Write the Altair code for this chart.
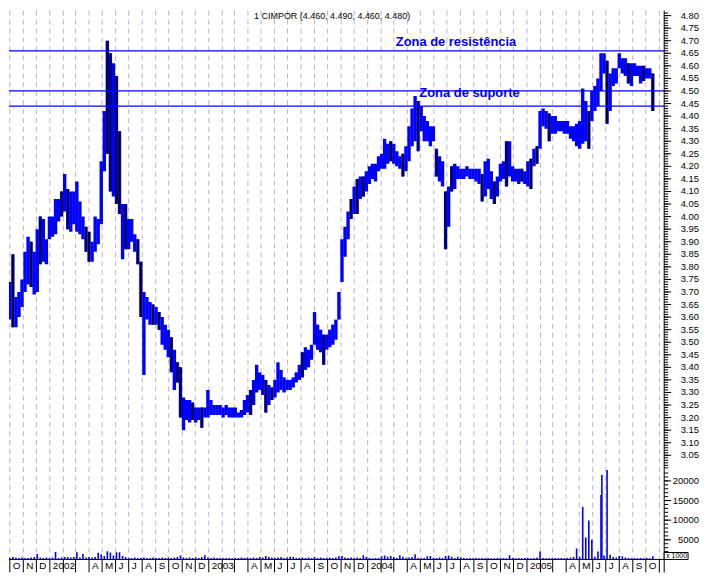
import altair as alt
import pandas as pd
import numpy as np

TITLE = "1 CIMPOR (4.460, 4.490, 4.460, 4.480)"
FIRST_WEEK = "2001-09-03"   # weekly bars, one per week

# ---- weekly highs / lows (EUR) ----
hi01 = [4.01, 3.87, 3.65, 3.67, 3.74, 3.85, 3.68, 3.70, 3.75, 3.86, 3.92, 3.90, 3.86, 3.95, 4.00, 3.99, 3.91, 4.00]
lo01 = [3.83, 3.42, 3.43, 3.52, 3.59, 3.56, 3.56, 3.60, 3.64, 3.70, 3.73, 3.72, 3.69, 3.70, 3.81, 3.82, 3.81, 3.91]
hi02 = [4.00, 4.07, 4.07, 4.10, 4.17, 4.11, 4.10, 4.10, 4.14, 4.06, 4.00, 3.96, 3.94, 3.90, 4.00, 3.99, 4.22, 4.42,
        4.70, 4.65, 4.61, 4.56, 4.34, 4.05, 4.05, 3.99, 3.99, 3.93, 3.91, 3.82, 3.70, 3.68, 3.66, 3.65, 3.64, 3.62,
        3.60, 3.57, 3.55, 3.52, 3.47, 3.42, 3.40, 3.28, 3.27, 3.27, 3.26, 3.24, 3.24, 3.24, 3.24, 3.31]
lo02 = [3.92, 3.93, 3.98, 4.00, 4.02, 3.95, 3.94, 3.97, 3.94, 3.93, 3.91, 3.86, 3.82, 3.82, 3.86, 3.89, 3.97, 4.18,
        4.25, 4.10, 4.08, 4.05, 4.01, 3.83, 3.87, 3.87, 3.90, 3.86, 3.81, 3.60, 3.37, 3.59, 3.57, 3.57, 3.57, 3.55,
        3.49, 3.47, 3.44, 3.38, 3.31, 3.34, 3.20, 3.15, 3.19, 3.18, 3.19, 3.18, 3.19, 3.16, 3.20, 3.20]
hi03 = [3.27, 3.25, 3.25, 3.25, 3.24, 3.25, 3.24, 3.24, 3.24, 3.22, 3.23, 3.27, 3.29, 3.31, 3.35, 3.41, 3.38, 3.37,
        3.35, 3.33, 3.32, 3.35, 3.42, 3.39, 3.36, 3.35, 3.35, 3.36, 3.38, 3.41, 3.46, 3.48, 3.47, 3.49, 3.62, 3.57,
        3.55, 3.53, 3.53, 3.55, 3.57, 3.59, 3.70, 3.91, 3.96, 4.02, 4.07, 4.12, 4.15, 4.16, 4.16, 4.18]
lo03 = [3.21, 3.21, 3.21, 3.21, 3.20, 3.21, 3.20, 3.20, 3.20, 3.20, 3.20, 3.21, 3.22, 3.21, 3.25, 3.30, 3.31, 3.29,
        3.22, 3.25, 3.27, 3.28, 3.30, 3.31, 3.30, 3.31, 3.31, 3.32, 3.34, 3.35, 3.36, 3.39, 3.40, 3.43, 3.49, 3.47,
        3.46, 3.41, 3.47, 3.48, 3.49, 3.51, 3.59, 3.74, 3.84, 3.91, 3.99, 4.01, 4.01, 4.07, 4.08, 4.10]
hi04 = [4.20, 4.21, 4.21, 4.24, 4.25, 4.31, 4.29, 4.30, 4.29, 4.26, 4.24, 4.25, 4.28, 4.36, 4.43, 4.48, 4.46, 4.44,
        4.40, 4.38, 4.36, 4.36, 4.27, 4.24, 4.22, 4.10, 4.12, 4.20, 4.21, 4.20, 4.19, 4.19, 4.20, 4.19, 4.19, 4.19,
        4.19, 4.17, 4.22, 4.23, 4.18, 4.14, 4.16, 4.21, 4.22, 4.30, 4.30, 4.20, 4.19, 4.19, 4.19, 4.18]
lo04 = [4.13, 4.15, 4.14, 4.18, 4.19, 4.19, 4.21, 4.22, 4.21, 4.20, 4.19, 4.16, 4.18, 4.22, 4.28, 4.30, 4.26, 4.34,
        4.30, 4.30, 4.28, 4.30, 4.16, 4.14, 4.12, 3.87, 3.96, 4.10, 4.11, 4.15, 4.15, 4.15, 4.16, 4.15, 4.15, 4.14,
        4.13, 4.06, 4.08, 4.11, 4.07, 4.05, 4.08, 4.14, 4.15, 4.12, 4.16, 4.14, 4.14, 4.13, 4.14, 4.13]
hi05 = [4.22, 4.23, 4.27, 4.28, 4.42, 4.43, 4.42, 4.41, 4.40, 4.40, 4.38, 4.38, 4.38, 4.38, 4.36, 4.36, 4.37, 4.38,
        4.51, 4.46, 4.42, 4.50, 4.52, 4.55, 4.65, 4.65, 4.62, 4.57, 4.59, 4.59, 4.65, 4.63, 4.63, 4.61, 4.61, 4.61,
        4.60, 4.60, 4.60, 4.59, 4.59, 4.57]
lo05 = [4.12, 4.11, 4.20, 4.21, 4.27, 4.36, 4.35, 4.30, 4.33, 4.33, 4.34, 4.34, 4.33, 4.33, 4.31, 4.30, 4.28, 4.27,
        4.29, 4.30, 4.27, 4.38, 4.42, 4.44, 4.50, 4.57, 4.37, 4.42, 4.52, 4.53, 4.59, 4.57, 4.56, 4.53, 4.52, 4.56,
        4.56, 4.53, 4.54, 4.55, 4.55, 4.42]
# u = up bar (blue), d = down bar (black)
dir01 = "dduuuduuuuuduuduuu"
dir02 = "uuududuuuu" "udduuuuudd" "udduduuudd" "uuududuuud" "udduuuduud" "uu"
dir03 = "uuuuuuuuuu" "uuuduuuudu" "duuuuuuuuu" "duuuuuuduu" "uuuuuududu" "du"
dir04 = "uuuuuuuduu" "uduuuuduuu" "uuduududuu" "uuuuuuuduu" "uduuuduuuu" "du"
dir05 = "ududuuuduu" "uuuuuuuuuu" "duuuuuduuu" "uuuduuuudu" "ud"

# ---- weekly volume (x 1000) ----
vol01 = [600, 500, 400, 500, 400, 600, 500, 400, 500, 400, 400, 500, 600, 1400, 500, 400, 500, 400]
vol02 = [500, 1900, 400, 500, 600, 600, 500, 600, 1850, 500, 1400, 500, 600, 500, 600, 1700, 1300, 900, 2100, 1800,
         1000, 1850, 1850, 850, 600, 400, 400, 500, 400, 400, 500, 400, 400, 500, 400, 400, 500, 400, 500, 400,
         500, 600, 1000, 500, 400, 500, 400, 500, 400, 600, 1100, 500]
vol03 = [400, 500, 400, 400, 300, 400, 400, 300, 400, 400, 500, 400, 500, 400, 500, 400, 600, 500, 900, 600,
         500, 400, 500, 600, 400, 500, 700, 600, 400, 400, 500, 400, 500, 400, 600, 400, 500, 400, 400, 500,
         400, 500, 800, 900, 500, 400, 500, 400, 500, 400, 1100, 600]
vol04 = [400, 300, 400, 400, 800, 1000, 700, 900, 600, 400, 1100, 700, 400, 500, 600, 1300, 400, 300, 400, 800,
         900, 400, 400, 500, 400, 900, 1000, 700, 400, 700, 500, 400, 300, 400, 300, 400, 300, 400, 300, 400,
         300, 300, 400, 300, 400, 300, 1100, 400, 300, 400, 300, 400]
vol05 = [400, 300, 400, 500, 2000, 400, 300, 400, 300, 400, 300, 400, 300, 400, 500, 600, 2800, 700, 13400, 5600,
         9900, 5000, 700, 2000, 16400, 1000, 22800, 1200, 600, 500, 900, 800, 500, 400, 300, 400, 300, 400, 300, 400,
         300, 800]
vol_extra_dates = ["2005-06-22"]
vol_extra = [21500]

# ---- horizontal zones and notes ----
level_values = [4.66, 4.50, 4.44]
note_texts = ["Zona de resistência", "Zona de suporte"]
note_dates = ["2004-07-22", "2004-08-22"]
note_prices = [4.68, 4.477]

MONTH_LETTERS = ["J", "F", "M", "A", "M", "J", "J", "A", "S", "O", "N", "D"]

# ---------------- build tables ----------------
highs = hi01 + hi02 + hi03 + hi04 + hi05
lows = lo01 + lo02 + lo03 + lo04 + lo05
dirs = list(dir01 + dir02 + dir03 + dir04 + dir05)
vols = vol01 + vol02 + vol03 + vol04 + vol05
n = min(len(highs), len(lows), len(dirs), len(vols))
weeks = pd.date_range(FIRST_WEEK, periods=n, freq="7D").strftime("%Y-%m-%d")
bars = pd.DataFrame({"date": weeks, "high": highs[:n], "low": lows[:n], "dir": dirs[:n]})
vol_df = pd.DataFrame({"date": list(weeks) + vol_extra_dates, "vol": vols[:n] + vol_extra})
vol_df["base"] = 0

months = pd.date_range("2001-10-01", "2005-11-01", freq="MS")
mlab = []
for d in months:
    if d.year == 2005 and d.month == 11:
        mlab.append("")
    elif d.month == 1:
        mlab.append(str(d.year))
    elif d.month in (2, 3):
        mlab.append("")
    else:
        mlab.append(MONTH_LETTERS[d.month - 1])
months_df = pd.DataFrame({"date": months.strftime("%Y-%m-%d"), "label": mlab})

levels_df = pd.DataFrame({"level": level_values})
notes_df = pd.DataFrame({"label": note_texts, "date": note_dates, "price": note_prices})

# ---------------- geometry ----------------
W, H = 659, 565
BASE = 552
BLUE = "#0000ff"
GRID = "#bdb0cc"
FONT = "Liberation Sans"
PX_PER_EUR = 252.7
P_TOP = 4.8198
price_dom = [P_TOP - H / PX_PER_EUR, P_TOP]
PX_PER_VOL = 3.95 / 1000
vol_dom = [-(H - BASE) / PX_PER_VOL, BASE / PX_PER_VOL]

xscale = alt.Scale(
    type="time",
    domain=[alt.DateTime(year=2001, month=9, date=1, utc=True),
            alt.DateTime(year=2005, month=11, date=1, utc=True)],
    range=[-12.3, 654.1],
    nice=False,
)
yP = alt.Scale(domain=price_dom, nice=False, zero=False)
yV = alt.Scale(domain=vol_dom, nice=False, zero=False)
X = alt.X("date:T", scale=xscale, axis=None)

p_minor = pd.DataFrame({"v": np.round(np.arange(300, 482) / 100.0, 2)})
p_major = pd.DataFrame({"v": np.round(np.arange(61, 97) * 0.05, 2)})
p_major["lab"] = [f"{v:.2f}" for v in p_major["v"]]
v_minor = pd.DataFrame({"v": np.arange(1000, 23000, 1000)})
v_major = pd.DataFrame({"v": [5000, 10000, 15000, 20000]})
v_major["lab"] = [str(v) for v in v_major["v"]]
one = pd.DataFrame({"t": [TITLE]})

grid = alt.Chart(months_df).mark_rule(color=GRID, strokeDash=[5, 4], strokeWidth=1).encode(
    x=X, y=alt.value(0), y2=alt.value(BASE))

# every week drawn in blue, down weeks overlaid with a thinner black stroke
price_blue = alt.Chart(bars).mark_rule(strokeWidth=3.4, clip=True, color=BLUE).encode(
    x=X, y=alt.Y("low:Q", scale=yP, axis=None), y2="high:Q")
price_black = alt.Chart(bars).transform_filter(alt.datum.dir == "d").mark_rule(
    strokeWidth=1.6, clip=True, color="#000000").encode(
    x=X, y=alt.Y("low:Q", scale=yP, axis=None), y2="high:Q")

levels = alt.Chart(levels_df).mark_rule(color=BLUE, strokeWidth=1.3).encode(
    y=alt.Y("level:Q", scale=yP, axis=None), x=alt.value(0), x2=alt.value(W))

notes = alt.Chart(notes_df).mark_text(
    font=FONT, fontSize=13, fontWeight="bold", color=BLUE, align="center", baseline="alphabetic"
).encode(x=X, y=alt.Y("price:Q", scale=yP, axis=None), text="label:N")

vol_bars = alt.Chart(vol_df).mark_rule(color=BLUE, strokeWidth=1.6, clip=True).encode(
    x=X, y=alt.Y("base:Q", scale=yV, axis=None), y2="vol:Q")

baseline = alt.Chart(one).mark_rule(color="black", strokeWidth=1).encode(
    x=alt.value(0), x2=alt.value(W), y=alt.value(BASE))

separators = alt.Chart(months_df).mark_rule(color="black", strokeWidth=1).encode(
    x=X, y=alt.value(BASE), y2=alt.value(H))

month_text = alt.Chart(months_df).mark_text(
    font=FONT, fontSize=10, align="left", baseline="middle", dx=3, color="black"
).encode(x=X, y=alt.value((BASE + H) / 2 + 0.5), text="label:N")

axis_line = alt.Chart(one).mark_rule(color="black", strokeWidth=1).encode(
    x=alt.value(W), y=alt.value(0), y2=alt.value(H))

pm = alt.Chart(p_minor).mark_rule(color="black").encode(
    y=alt.Y("v:Q", scale=yP, axis=None), x=alt.value(W), x2=alt.value(W + 4))
pM = alt.Chart(p_major).mark_rule(color="black").encode(
    y=alt.Y("v:Q", scale=yP, axis=None), x=alt.value(W), x2=alt.value(W + 7))
pL = alt.Chart(p_major).mark_text(font=FONT, fontSize=9.5, align="right", baseline="middle", color="black").encode(
    y=alt.Y("v:Q", scale=yP, axis=None), x=alt.value(W + 35), text="lab:N")

vm = alt.Chart(v_minor).mark_rule(color="black").encode(
    y=alt.Y("v:Q", scale=yV, axis=None), x=alt.value(W), x2=alt.value(W + 4))
vM = alt.Chart(v_major).mark_rule(color="black").encode(
    y=alt.Y("v:Q", scale=yV, axis=None), x=alt.value(W), x2=alt.value(W + 7))
vL = alt.Chart(v_major).mark_text(font=FONT, fontSize=9.5, align="right", baseline="middle", color="black").encode(
    y=alt.Y("v:Q", scale=yV, axis=None), x=alt.value(W + 35), text="lab:N")

unit_box = alt.Chart(one).mark_rect(fill="white", stroke="black", strokeWidth=1).encode(
    x=alt.value(W), x2=alt.value(W + 24), y=alt.value(BASE - 7), y2=alt.value(BASE))
unit_text = alt.Chart(one).mark_text(font=FONT, fontSize=7, align="left", baseline="middle", color="black").encode(
    x=alt.value(W + 2), y=alt.value(BASE - 3.5), text=alt.value("x 1000"))

title = alt.Chart(one).mark_text(font=FONT, fontSize=9, align="center", baseline="top", color="black").encode(
    x=alt.value(325), y=alt.value(1), text="t:N")

chart = alt.layer(
    grid, vol_bars, price_blue, price_black, levels, notes, baseline, separators, month_text,
    axis_line, pm, pM, pL, vm, vM, vL, unit_box, unit_text, title
).resolve_scale(y="independent").properties(
    width=W, height=H, padding=0, background="white"
).configure_view(strokeWidth=0)

chart.save("out.html", embed_options={"renderer": "svg", "actions": False})
